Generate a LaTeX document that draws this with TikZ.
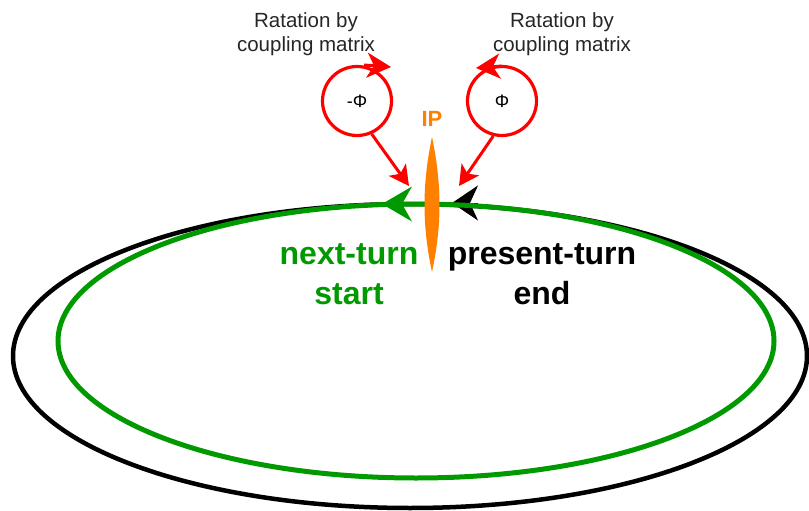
\documentclass[tikz,border=0pt]{standalone}
\usepackage{fontspec}
\setmainfont{Liberation Sans}
\usetikzlibrary{arrows.meta}
\definecolor{ringgreen}{HTML}{009900}
\definecolor{iporange}{HTML}{FF8000}
\definecolor{phired}{HTML}{FF0000}
\tikzset{
  ring/.style={line width=4.5pt},
  phicircle/.style={circle, draw=phired, line width=3.2pt, minimum size=69pt, inner sep=0pt, font=\fontsize{18}{20}\selectfont},
  redarrow/.style={draw=phired, line width=3pt, -{Stealth[length=20pt,width=21pt,inset=5pt]}},
  rotarrow/.style={draw=phired, line width=3pt, -{Stealth[length=24pt,width=25pt,inset=7pt]}},
  biglabel/.style={align=center, font=\fontsize{32}{40}\selectfont\bfseries, inner sep=0pt},
  smalllabel/.style={align=center, font=\fontsize{20.5}{24}\selectfont, text=black!85, inner sep=0pt},
}
\begin{document}
\begin{tikzpicture}[x=1pt,y=-1pt]
\useasboundingbox (0,0) rectangle (809,511);
% black ring (present turn)
\draw[ring, black] (410,356) ellipse [x radius=397, y radius=152];
% black arrowhead
\coordinate (bA) at (478,203);
\coordinate (bT) at (452,203);
\draw[line width=1pt, black, -{Stealth[length=26pt,width=35pt,inset=8pt]}] (bA) -- (bT);
% green ring (next turn)
\draw[ring, ringgreen, line width=5pt] (416,341) ellipse [x radius=358, y radius=137];
\coordinate (gA) at (412,204);
\coordinate (gT) at (382,204);
\draw[line width=1pt, ringgreen, -{Stealth[length=30pt,width=35pt,inset=10pt]}] (gA) -- (gT);
% IP spindle
\coordinate (ipTop) at (432,137);
\coordinate (ipBot) at (432,272);
\fill[iporange] (ipTop) .. controls (442,185) and (442,225) .. (ipBot)
  .. controls (422,225) and (422,185) .. (ipTop);
\node[text=iporange, font=\fontsize{22}{24}\selectfont\bfseries, inner sep=0pt] (ip) at (432,119) {IP};
% labels
\node[biglabel, text=ringgreen] (next) at (349,274) {next-turn\\start};
\node[biglabel, text=black] (pres) at (542,274) {present-turn\\end};
% rotation circles
\node[phicircle] (lc) at (357,101) {-Φ};
\node[phicircle] (rc) at (502,101) {Φ};
\node[smalllabel] (lt) at (306,34) {Ratation by\\coupling matrix};
\node[smalllabel] (rt) at (562,34) {Ratation by\\coupling matrix};
% rotation arrowheads
\coordinate (lrA) at (364,65);
\coordinate (lrT) at (391,67);
\draw[rotarrow] (lrA) -- (lrT);
\coordinate (rrA) at (502,66);
\coordinate (rrT) at (476,68);
\draw[rotarrow] (rrA) -- (rrT);
% arrows to the ring
\coordinate (lhit) at (409,186);
\coordinate (rhit) at (459,186);
\draw[redarrow] (lc.-66) -- (lhit);
\draw[redarrow] (rc.-104) -- (rhit);
\end{tikzpicture}
\end{document}
